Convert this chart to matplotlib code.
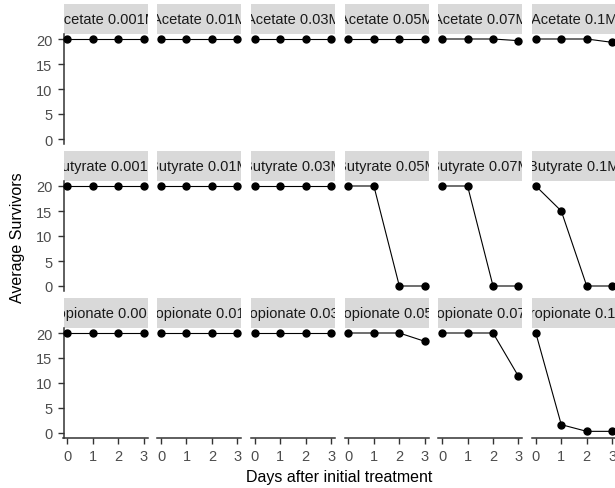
import numpy as np
import matplotlib.pyplot as plt

plt.rcParams['font.family'] = ['Liberation Sans', 'DejaVu Sans']

days = [0, 1, 2, 3]
acids = ['Acetate', 'Butyrate', 'Propionate']
concs = ['0.001M', '0.01M', '0.03M', '0.05M', '0.07M', '0.1M']

# average survivors per concentration (rows = concentration, cols = day)
acetate = [
    [20, 20, 20, 20],
    [20, 20, 20, 20],
    [20, 20, 20, 20],
    [20, 20, 20, 20],
    [20, 20, 20, 19.67],
    [20, 20, 20, 19.33],
]
butyrate = [
    [20, 20, 20, 20],
    [20, 20, 20, 20],
    [20, 20, 20, 20],
    [20, 20, 0, 0],
    [20, 20, 0, 0],
    [20, 15, 0, 0],
]
propionate = [
    [20, 20, 20, 20],
    [20, 20, 20, 20],
    [20, 20, 20, 20],
    [20, 20, 20, 18.33],
    [20, 20, 20, 11.33],
    [20, 1.67, 0.33, 0.33],
]
survivors = {'Acetate': acetate, 'Butyrate': butyrate, 'Propionate': propionate}

W, H = 615, 489
fig = plt.figure(figsize=(W / 100, H / 100), dpi=100)

def px_axes(left, top, width, height):
    return fig.add_axes([left / W, (H - top - height) / H, width / W, height / H])

left0, col_step, pw = 63.5, 93.7, 84
top0, row_step, sh, ph = 5, 147, 30, 110
axcol = '#333333'

for r, acid in enumerate(acids):
    for c, conc in enumerate(concs):
        x0 = left0 + c * col_step
        st = top0 + r * row_step

        # strip with the facet label, cut to the strip's box
        sax = px_axes(x0, st, pw, sh)
        sax.set_facecolor('#D9D9D9')
        sax.set_xticks([])
        sax.set_yticks([])
        for s in sax.spines.values():
            s.set_visible(False)
        t = sax.text(0.5, 0.5, f'{acid} {conc}', ha='center', va='center',
                     fontsize=10.5, color='#1A1A1A', transform=sax.transAxes)
        t.set_clip_box(sax.bbox)
        t.set_clip_on(True)

        ax = px_axes(x0, st + sh, pw, ph)
        ax.plot(days, survivors[acid][c], color='black', lw=0.8,
                marker='o', ms=5, clip_on=False, zorder=3)
        ax.set_xlim(-0.15, 3.15)
        ax.set_ylim(-1, 21)
        ax.set_xticks(days)
        ax.set_yticks([0, 5, 10, 15, 20])
        for s in ['top', 'right']:
            ax.spines[s].set_visible(False)
        ax.spines['left'].set_visible(c == 0)
        ax.spines['bottom'].set_visible(r == len(acids) - 1)
        for s in ['left', 'bottom']:
            ax.spines[s].set_color(axcol)
            ax.spines[s].set_linewidth(1.1)
        ax.tick_params(colors=axcol, labelcolor='#4D4D4D', labelsize=10.5,
                       length=4.5, width=1.0, pad=3.5)
        ax.tick_params(axis='y', left=(c == 0), labelleft=(c == 0))
        ax.tick_params(axis='x', bottom=(r == len(acids) - 1),
                       labelbottom=(r == len(acids) - 1))

fig.text(339.5 / W, 1 - 478 / H, 'Days after initial treatment',
         ha='center', va='center', fontsize=11.5, color='black')
fig.text(18 / W, 1 - 238 / H, 'Average Survivors', rotation=90,
         ha='center', va='center', fontsize=11.5, color='black')

fig.savefig('out.png', dpi=100)
